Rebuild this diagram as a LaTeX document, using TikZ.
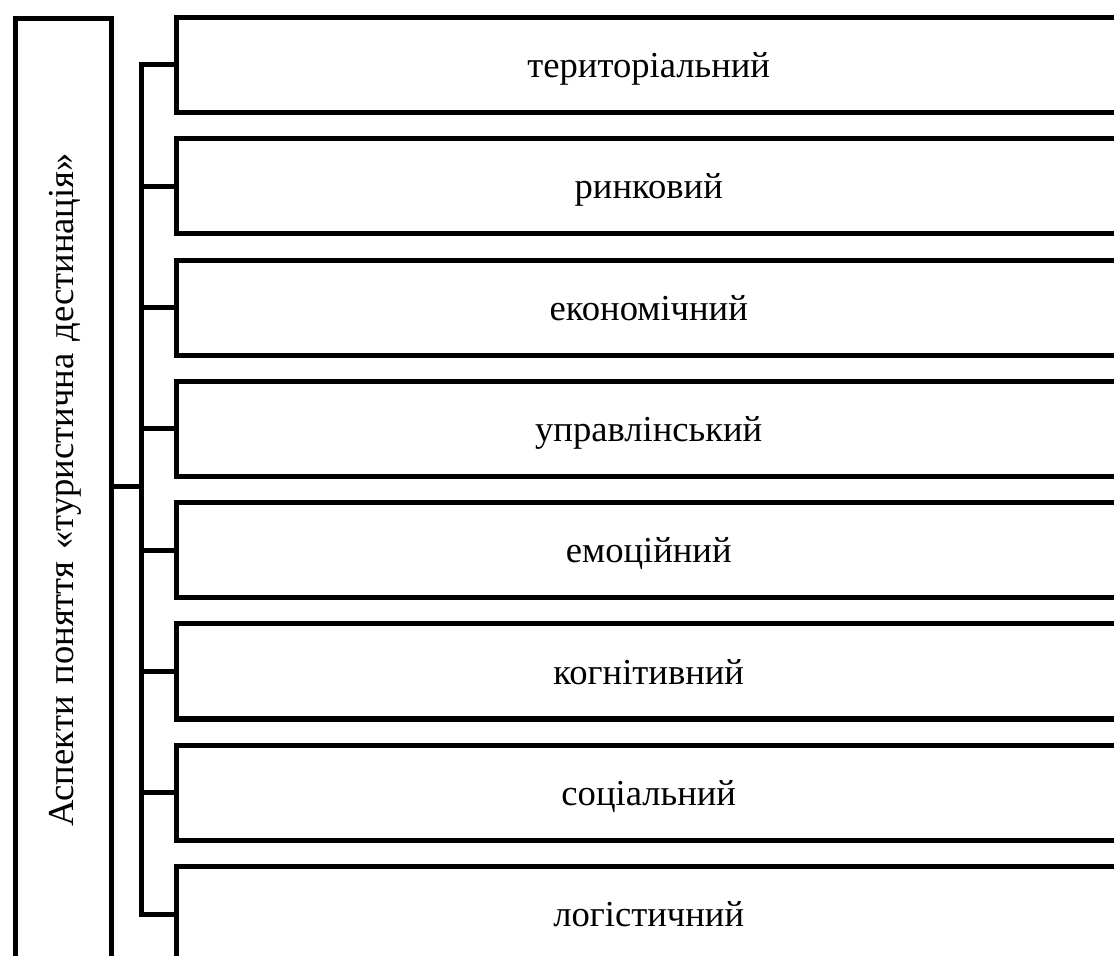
\documentclass[tikz,border=0pt]{standalone}
\usepackage{fontspec}
\setmainfont{Liberation Serif}
\begin{document}
\begin{tikzpicture}[x=0.5pt,y=-0.5pt,line width=2.5pt,line join=miter,
  txt/.style={font=\fontsize{18.3pt}{22pt}\selectfont},
  aspect/.style={draw,anchor=north west,minimum width=472.75pt,minimum height=47.5pt,
    inner sep=0pt,text height=17pt,text depth=4.5pt,txt},
  headbox/.style={draw,anchor=north west,minimum width=48.25pt,minimum height=474pt,
    inner sep=0pt}]
\useasboundingbox (0,0) rectangle (1114,956);
\clip (0,0) rectangle (1114,956);
\node[headbox] (L) at (12.5,16) {};
\node[rotate=90,txt,inner sep=0pt,anchor=base] (Lt) at (73,490)
  {Аспекти\hspace{0.33em}поняття\hspace{0.33em}«туристична\hspace{0.33em}дестинація»};
\node[aspect] (b1) at (173.5,15.0) {територіальний};
\node[aspect] (b2) at (173.5,136.3) {ринковий};
\node[aspect] (b3) at (173.5,257.6) {економічний};
\node[aspect] (b4) at (173.5,378.9) {управлінський};
\node[aspect] (b5) at (173.5,500.2) {емоційний};
\node[aspect] (b6) at (173.5,621.5) {когнітивний};
\node[aspect] (b7) at (173.5,742.8) {соціальний};
\node[aspect] (b8) at (173.5,864.1) {логістичний};
\coordinate (j) at (141.5,487);
\draw (b1.west) -| (j) |- (b8.west);
\foreach \i in {2,...,7} { \draw (b\i.west) -- (b\i.west -| j); }
\draw (L.east |- j) -- (j);
\end{tikzpicture}
\end{document}
